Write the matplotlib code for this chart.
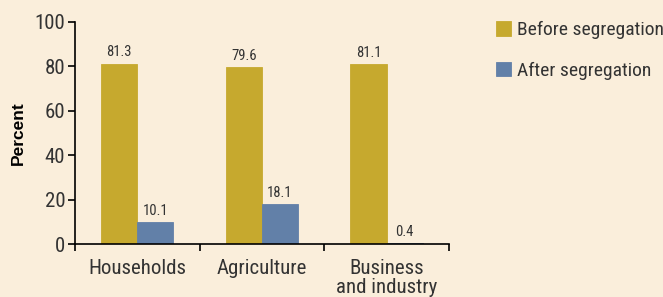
import matplotlib.pyplot as plt
import numpy as np

# data
categories = ['Households', 'Agriculture', 'Business\nand industry']
before = [81.3, 79.6, 81.1]
after = [10.1, 18.1, 0.4]
series_names = ['Before segregation', 'After segregation']

bg = '#faeedb'
gold = '#c6a92e'
blue = '#6280a8'
txt = '#333333'

plt.rcParams['font.family'] = ['Roboto Condensed', 'DejaVu Sans']

fig = plt.figure(figsize=(6.63, 2.97), dpi=100, facecolor=bg)
ax = fig.add_axes([0.113, 0.178, 0.564, 0.748], facecolor=bg)

x = np.arange(len(categories)) + 0.5
w = 0.29
b1 = ax.bar(x - w / 2, before, w, color=gold, edgecolor=gold, linewidth=0.6, label=series_names[0])
b2 = ax.bar(x + w / 2, after, w, color=blue, edgecolor=blue, linewidth=0.6, label=series_names[1])

for bars in (b1, b2):
    for r in bars:
        ax.annotate('%.1f' % r.get_height(), (r.get_x() + r.get_width() / 2, r.get_height()),
                    xytext=(0, 3), textcoords='offset points', ha='center', va='bottom',
                    fontsize=10.5, color=txt)

ax.set_xlim(0, 3)
ax.set_ylim(0, 100)
ax.set_yticks([0, 20, 40, 60, 80, 100])
ax.set_xticks([0, 1, 2, 3])
ax.set_xticklabels([])
ax.set_xticks(x, minor=True)
ax.set_xticklabels(categories, minor=True, fontsize=15, color=txt, linespacing=1.0)
ax.tick_params(axis='x', which='minor', length=0, pad=11)
ax.tick_params(axis='x', which='major', length=5, width=1.2, direction='out')
ax.tick_params(axis='y', length=5, width=1.2, labelsize=15, labelcolor=txt, pad=2)

for s in ['top', 'right']:
    ax.spines[s].set_visible(False)
for s in ['left', 'bottom']:
    ax.spines[s].set_linewidth(1.2)
    ax.spines[s].set_color('black')

ax.set_ylabel('Percent', fontsize=12.5, fontweight='bold', color='black', labelpad=6,
              family=['Liberation Sans', 'DejaVu Sans'])

leg = fig.legend(loc='upper left', bbox_to_anchor=(0.737, 0.955), frameon=False,
                 fontsize=14, handlelength=0.75, handleheight=0.75, handletextpad=0.3,
                 labelspacing=1.15, borderaxespad=0)
for t in leg.get_texts():
    t.set_color(txt)

fig.savefig('out.png', dpi=100, facecolor=bg)
